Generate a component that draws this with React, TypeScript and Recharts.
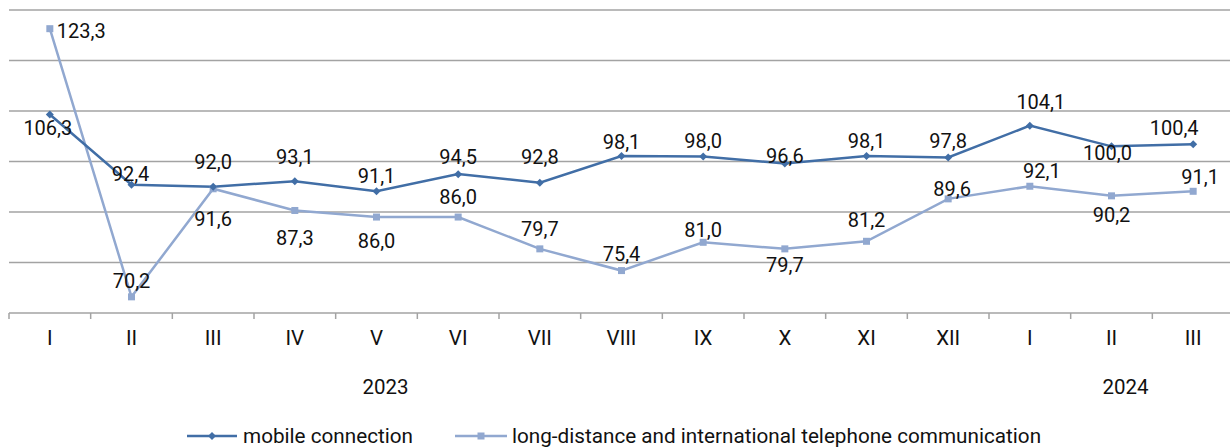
import React from 'react';
import { LineChart, Line, XAxis, YAxis, LabelList, Legend, ReferenceLine } from 'recharts';

const months = ['I', 'II', 'III', 'IV', 'V', 'VI', 'VII', 'VIII', 'IX', 'X', 'XI', 'XII', 'I', 'II', 'III'];
const years = ['2023', '2024'];
const mobile = [106.3, 92.4, 92.0, 93.1, 91.1, 94.5, 92.8, 98.1, 98.0, 96.6, 98.1, 97.8, 104.1, 100.0, 100.4];
const longDistance = [123.3, 70.2, 91.6, 87.3, 86.0, 86.0, 79.7, 75.4, 81.0, 79.7, 81.2, 89.6, 92.1, 90.2, 91.1];
const yTicks = [67, 77, 87, 97, 107, 117, 127];

const data = months.map((m, i) => ({ month: m, mobile: mobile[i], longDistance: longDistance[i] }));

// layout / style
const W = 1240;
const H = 447;
const MARGIN = { top: 10, right: 6, left: 9, bottom: 0 };
const PLOT_BOTTOM = 313;
const BAND = (W - MARGIN.left - MARGIN.right) / months.length;
const FONT = 'Roboto, "Noto Sans", sans-serif';
const FS_LABEL = 20;
const FS_AXIS = 20.5;
const FS_LEGEND = 20.7;
const TEXT = '#111111';
const MOBILE_COLOR = '#416ea6';
const LONG_COLOR = '#91a8d0';
const GRID = '#a3a3a3';

const yearTickIndex = [4, 13];
const yearDx = [9, 14];

const mobileLabelOffsets: [number, number][] = [
  [-2, 13], [-1, -11], [0, -25], [0, -24], [0, -15], [0, -17], [0, -26], [0, -14],
  [0, -15], [0, -8], [0, -15], [0, -16], [11, -24], [-4, 7], [-19, -16],
];
const longLabelOffsets: [number, number][] = [
  [7, 2], [0, -16], [0, 30], [0, 28], [0, 24], [0, -20], [0, -20], [0, -17],
  [0, -12], [0, 16], [0, -21], [4, -10], [12, -15], [0, 19], [7, -14],
];

const fmt = (v: number) => v.toFixed(1).replace('.', ',');

function MonthTick(props: any) {
  const { x, index, payload } = props;
  const yi = yearTickIndex.indexOf(index);
  return (
    <g>
      <line x1={x - BAND / 2} x2={x - BAND / 2} y1={PLOT_BOTTOM} y2={PLOT_BOTTOM + 6} stroke={GRID} strokeWidth={1.5} />
      {index === months.length - 1 && (
        <line x1={x + BAND / 2} x2={x + BAND / 2} y1={PLOT_BOTTOM} y2={PLOT_BOTTOM + 6} stroke={GRID} strokeWidth={1.5} />
      )}
      <text x={x} y={338} textAnchor="middle" dominantBaseline="central" fontFamily={FONT} fontSize={FS_AXIS} fill={TEXT}>
        {payload.value}
      </text>
      {yi >= 0 && (
        <text x={x + yearDx[yi]} y={387} textAnchor="middle" dominantBaseline="central" fontFamily={FONT} fontSize={FS_AXIS} fill={TEXT}>
          {years[yi]}
        </text>
      )}
    </g>
  );
}

const makeLabel = (offsets: [number, number][], leftAlignFirst: boolean) => (p: any) => {
  const { x, y, index, value } = p;
  const [dx, dy] = offsets[index] || [0, -15];
  const left = leftAlignFirst && index === 0;
  return (
    <text
      key={`lbl-${index}`}
      x={x + dx}
      y={y + dy}
      textAnchor={left ? 'start' : 'middle'}
      dominantBaseline="central"
      fontFamily={FONT}
      fontSize={FS_LABEL}
      fill={TEXT}
    >
      {fmt(Number(value))}
    </text>
  );
};

const Diamond = (p: any) => {
  const { cx, cy, index } = p;
  if (cx == null || cy == null) return <g key={`d-${index}`} />;
  const r = 4;
  return <path key={`d-${index}`} d={`M${cx},${cy - r}L${cx + r},${cy}L${cx},${cy + r}L${cx - r},${cy}Z`} fill={MOBILE_COLOR} />;
};

const Square = (p: any) => {
  const { cx, cy, index } = p;
  if (cx == null || cy == null) return <g key={`s-${index}`} />;
  return <rect key={`s-${index}`} x={cx - 3.5} y={cy - 3.5} width={7} height={7} fill={LONG_COLOR} />;
};

const LegendContent = () => (
  <svg width={1240} height={24} style={{ display: 'block' }}>
    <line x1={187} x2={237} y1={13} y2={13} stroke={MOBILE_COLOR} strokeWidth={2.5} />
    <path d="M212,9L216,13L212,17L208,13Z" fill={MOBILE_COLOR} />
    <text x={243} y={13} dominantBaseline="central" fontFamily={FONT} fontSize={FS_LEGEND} fill={TEXT}>
      mobile connection
    </text>
    <line x1={455} x2={507} y1={13} y2={13} stroke={LONG_COLOR} strokeWidth={2.5} />
    <rect x={477.5} y={9.5} width={7} height={7} fill={LONG_COLOR} />
    <text x={512} y={13} dominantBaseline="central" fontFamily={FONT} fontSize={FS_LEGEND} fill={TEXT}>
      long-distance and international telephone communication
    </text>
  </svg>
);

export default function App() {
  return (
    <div style={{ position: 'fixed', left: 0, top: 0, width: 1230, height: 447, overflow: 'hidden', background: '#fff' }}>
      <LineChart width={W} height={H} data={data} margin={MARGIN}>
        <YAxis
          domain={[67, 127]}
          ticks={yTicks}
          width={0}
          tick={false}
          tickLine={false}
          axisLine={{ stroke: GRID, strokeWidth: 1.6 }}
          allowDataOverflow
        />
        <XAxis
          dataKey="month"
          height={110}
          tickLine={false}
          axisLine={{ stroke: GRID, strokeWidth: 1.6 }}
          tick={<MonthTick />}
          interval={0}
          padding={{ left: BAND / 2, right: BAND / 2 }}
        />
        {yTicks.slice(1).map((t) => (
          <ReferenceLine key={`g-${t}`} y={t} stroke={GRID} strokeWidth={1.6} ifOverflow="extendDomain" />
        ))}
        <Legend verticalAlign="bottom" height={24} wrapperStyle={{ left: 0, width: 1240, bottom: 0 }} content={<LegendContent />} />
        <Line
          type="linear"
          dataKey="longDistance"
          stroke={LONG_COLOR}
          strokeWidth={2.5}
          dot={<Square />}
          activeDot={false}
          isAnimationActive={false}
        >
          <LabelList dataKey="longDistance" content={makeLabel(longLabelOffsets, true)} />
        </Line>
        <Line
          type="linear"
          dataKey="mobile"
          stroke={MOBILE_COLOR}
          strokeWidth={2.5}
          dot={<Diamond />}
          activeDot={false}
          isAnimationActive={false}
        >
          <LabelList dataKey="mobile" content={makeLabel(mobileLabelOffsets, false)} />
        </Line>
      </LineChart>
    </div>
  );
}
